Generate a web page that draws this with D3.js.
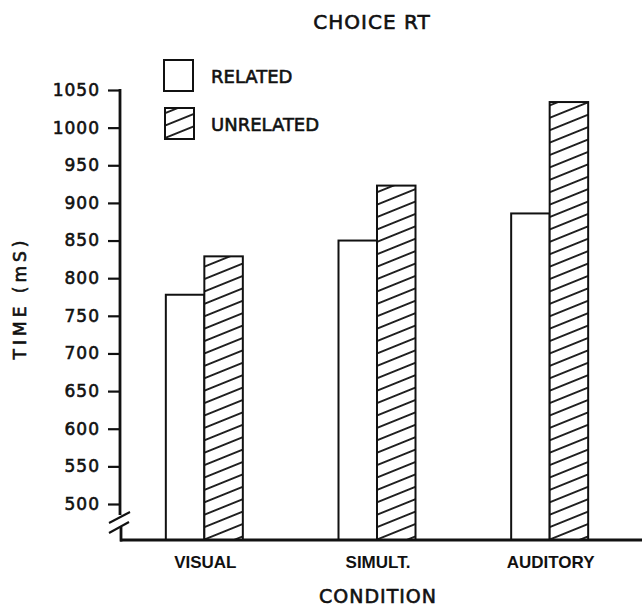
<!DOCTYPE html>
<html>
<head>
<meta charset="utf-8">
<script src="https://cdn.jsdelivr.net/npm/d3@7"></script>
<style>
  html, body { margin: 0; padding: 0; background: #fff; }
  svg { display: block; }
</style>
</head>
<body>
<svg id="chart" width="642" height="609"></svg>
<script>
// ---- data ----
const categories = ["VISUAL", "SIMULT.", "AUDITORY"];
const seriesNames = ["RELATED", "UNRELATED"];
const relatedValues = [778, 850, 886];
const unrelatedValues = [829, 923, 1034];
const yTickValues = [500, 550, 600, 650, 700, 750, 800, 850, 900, 950, 1000, 1050];
const chartTitle = "CHOICE RT";
const yTitle = "TIME (mS)";
const xTitle = "CONDITION";

// ---- layout ----
const svg = d3.select("#chart");
const baselineY = 540;
const y = d3.scaleLinear().domain([500, 1050]).range([504, 90]);
const x = d3.scalePoint().domain(categories).range([118, 636]).padding(0.5);
const sub = d3.scaleBand().domain(seriesNames).range([-38.5, 38.5]).padding(0);

const ink = "#111";
const letterFont = "'DejaVu Sans', sans-serif";

// hatch pattern
const defs = svg.append("defs");
const pat = defs.append("pattern")
  .attr("id", "hatch")
  .attr("patternUnits", "userSpaceOnUse")
  .attr("width", 20).attr("height", 11.5)
  .attr("patternTransform", "rotate(-22)");
pat.append("rect").attr("width", 20).attr("height", 11.5).attr("fill", "#fff");
pat.append("line").attr("x1", 0).attr("x2", 20).attr("y1", 5.75).attr("y2", 5.75)
  .attr("stroke", ink).attr("stroke-width", 1.8);

const fills = { "RELATED": "#fff", "UNRELATED": "url(#hatch)" };

// bars
const rows = categories.map((c, i) => ({ cat: c, RELATED: relatedValues[i], UNRELATED: unrelatedValues[i] }));
const groups = svg.append("g").selectAll("g").data(rows).join("g")
  .attr("transform", d => `translate(${x(d.cat)},0)`);
groups.selectAll("rect").data(d => seriesNames.map(s => ({ s, v: d[s] }))).join("rect")
  .attr("x", d => sub(d.s))
  .attr("width", sub.bandwidth())
  .attr("y", d => y(d.v))
  .attr("height", d => baselineY - y(d.v))
  .attr("fill", d => fills[d.s])
  .attr("stroke", ink)
  .attr("stroke-width", 2);

// y axis ticks and labels
const yAxis = d3.axisLeft(y).tickValues(yTickValues).tickSize(12).tickPadding(8).tickFormat(d3.format("d"));
const yg = svg.append("g").attr("transform", "translate(120,0)").call(yAxis);
yg.select(".domain").remove();
yg.selectAll(".tick line").attr("stroke", ink).attr("stroke-width", 2.2);
yg.selectAll(".tick text")
  .attr("fill", ink)
  .attr("stroke", ink).attr("stroke-width", 0.6)
  .style("font-family", letterFont)
  .style("font-size", "17px")
  .style("letter-spacing", "1px");

// y axis line with break
svg.append("line").attr("x1", 120).attr("x2", 120).attr("y1", y(1050) - 1).attr("y2", 515)
  .attr("stroke", ink).attr("stroke-width", 2.8);
svg.append("line").attr("x1", 121).attr("x2", 121).attr("y1", 527).attr("y2", baselineY + 1.5)
  .attr("stroke", ink).attr("stroke-width", 2.8);
svg.append("line").attr("x1", 109).attr("y1", 523).attr("x2", 130).attr("y2", 512)
  .attr("stroke", ink).attr("stroke-width", 2);
svg.append("line").attr("x1", 109).attr("y1", 533).attr("x2", 129).attr("y2", 522)
  .attr("stroke", ink).attr("stroke-width", 2);

// x axis line
svg.append("line").attr("x1", 120).attr("x2", 642).attr("y1", baselineY).attr("y2", baselineY)
  .attr("stroke", ink).attr("stroke-width", 3);

// category labels
svg.append("g").selectAll("text").data(categories).join("text")
  .attr("x", d => x(d) + 1)
  .attr("y", 568)
  .attr("text-anchor", "middle")
  .style("font-family", "'Liberation Sans', Arial, sans-serif")
  .style("font-weight", "bold")
  .style("font-size", "17px")
  .attr("fill", ink)
  .text(d => d);

// titles
const lettered = sel => sel.style("font-family", letterFont).attr("fill", ink)
  .attr("stroke", ink).attr("stroke-width", 0.6);

svg.append("text").attr("x", 372).attr("y", 29).attr("text-anchor", "middle")
  .call(lettered).style("font-size", "20px").style("letter-spacing", "1px")
  .text(chartTitle);

svg.append("text").attr("x", 378).attr("y", 603).attr("text-anchor", "middle")
  .call(lettered).style("font-size", "19px").style("letter-spacing", "1px")
  .text(xTitle);

svg.append("text").attr("transform", "translate(26,298) rotate(-90)").attr("text-anchor", "middle")
  .call(lettered).style("font-size", "17px").style("letter-spacing", "4px")
  .text(yTitle);

// legend
const legendRows = [
  { name: seriesNames[0], bx: 164, by: 60, ty: 83 },
  { name: seriesNames[1], bx: 165, by: 108, ty: 131 }
];
const lg = svg.append("g").selectAll("g").data(legendRows).join("g");
lg.append("rect").attr("x", d => d.bx).attr("y", d => d.by).attr("width", 29).attr("height", 31)
  .attr("fill", d => fills[d.name]).attr("stroke", ink).attr("stroke-width", 2);
lg.append("text").attr("x", 211).attr("y", d => d.ty)
  .call(lettered).style("font-size", "18px")
  .text(d => d.name);
</script>
</body>
</html>
